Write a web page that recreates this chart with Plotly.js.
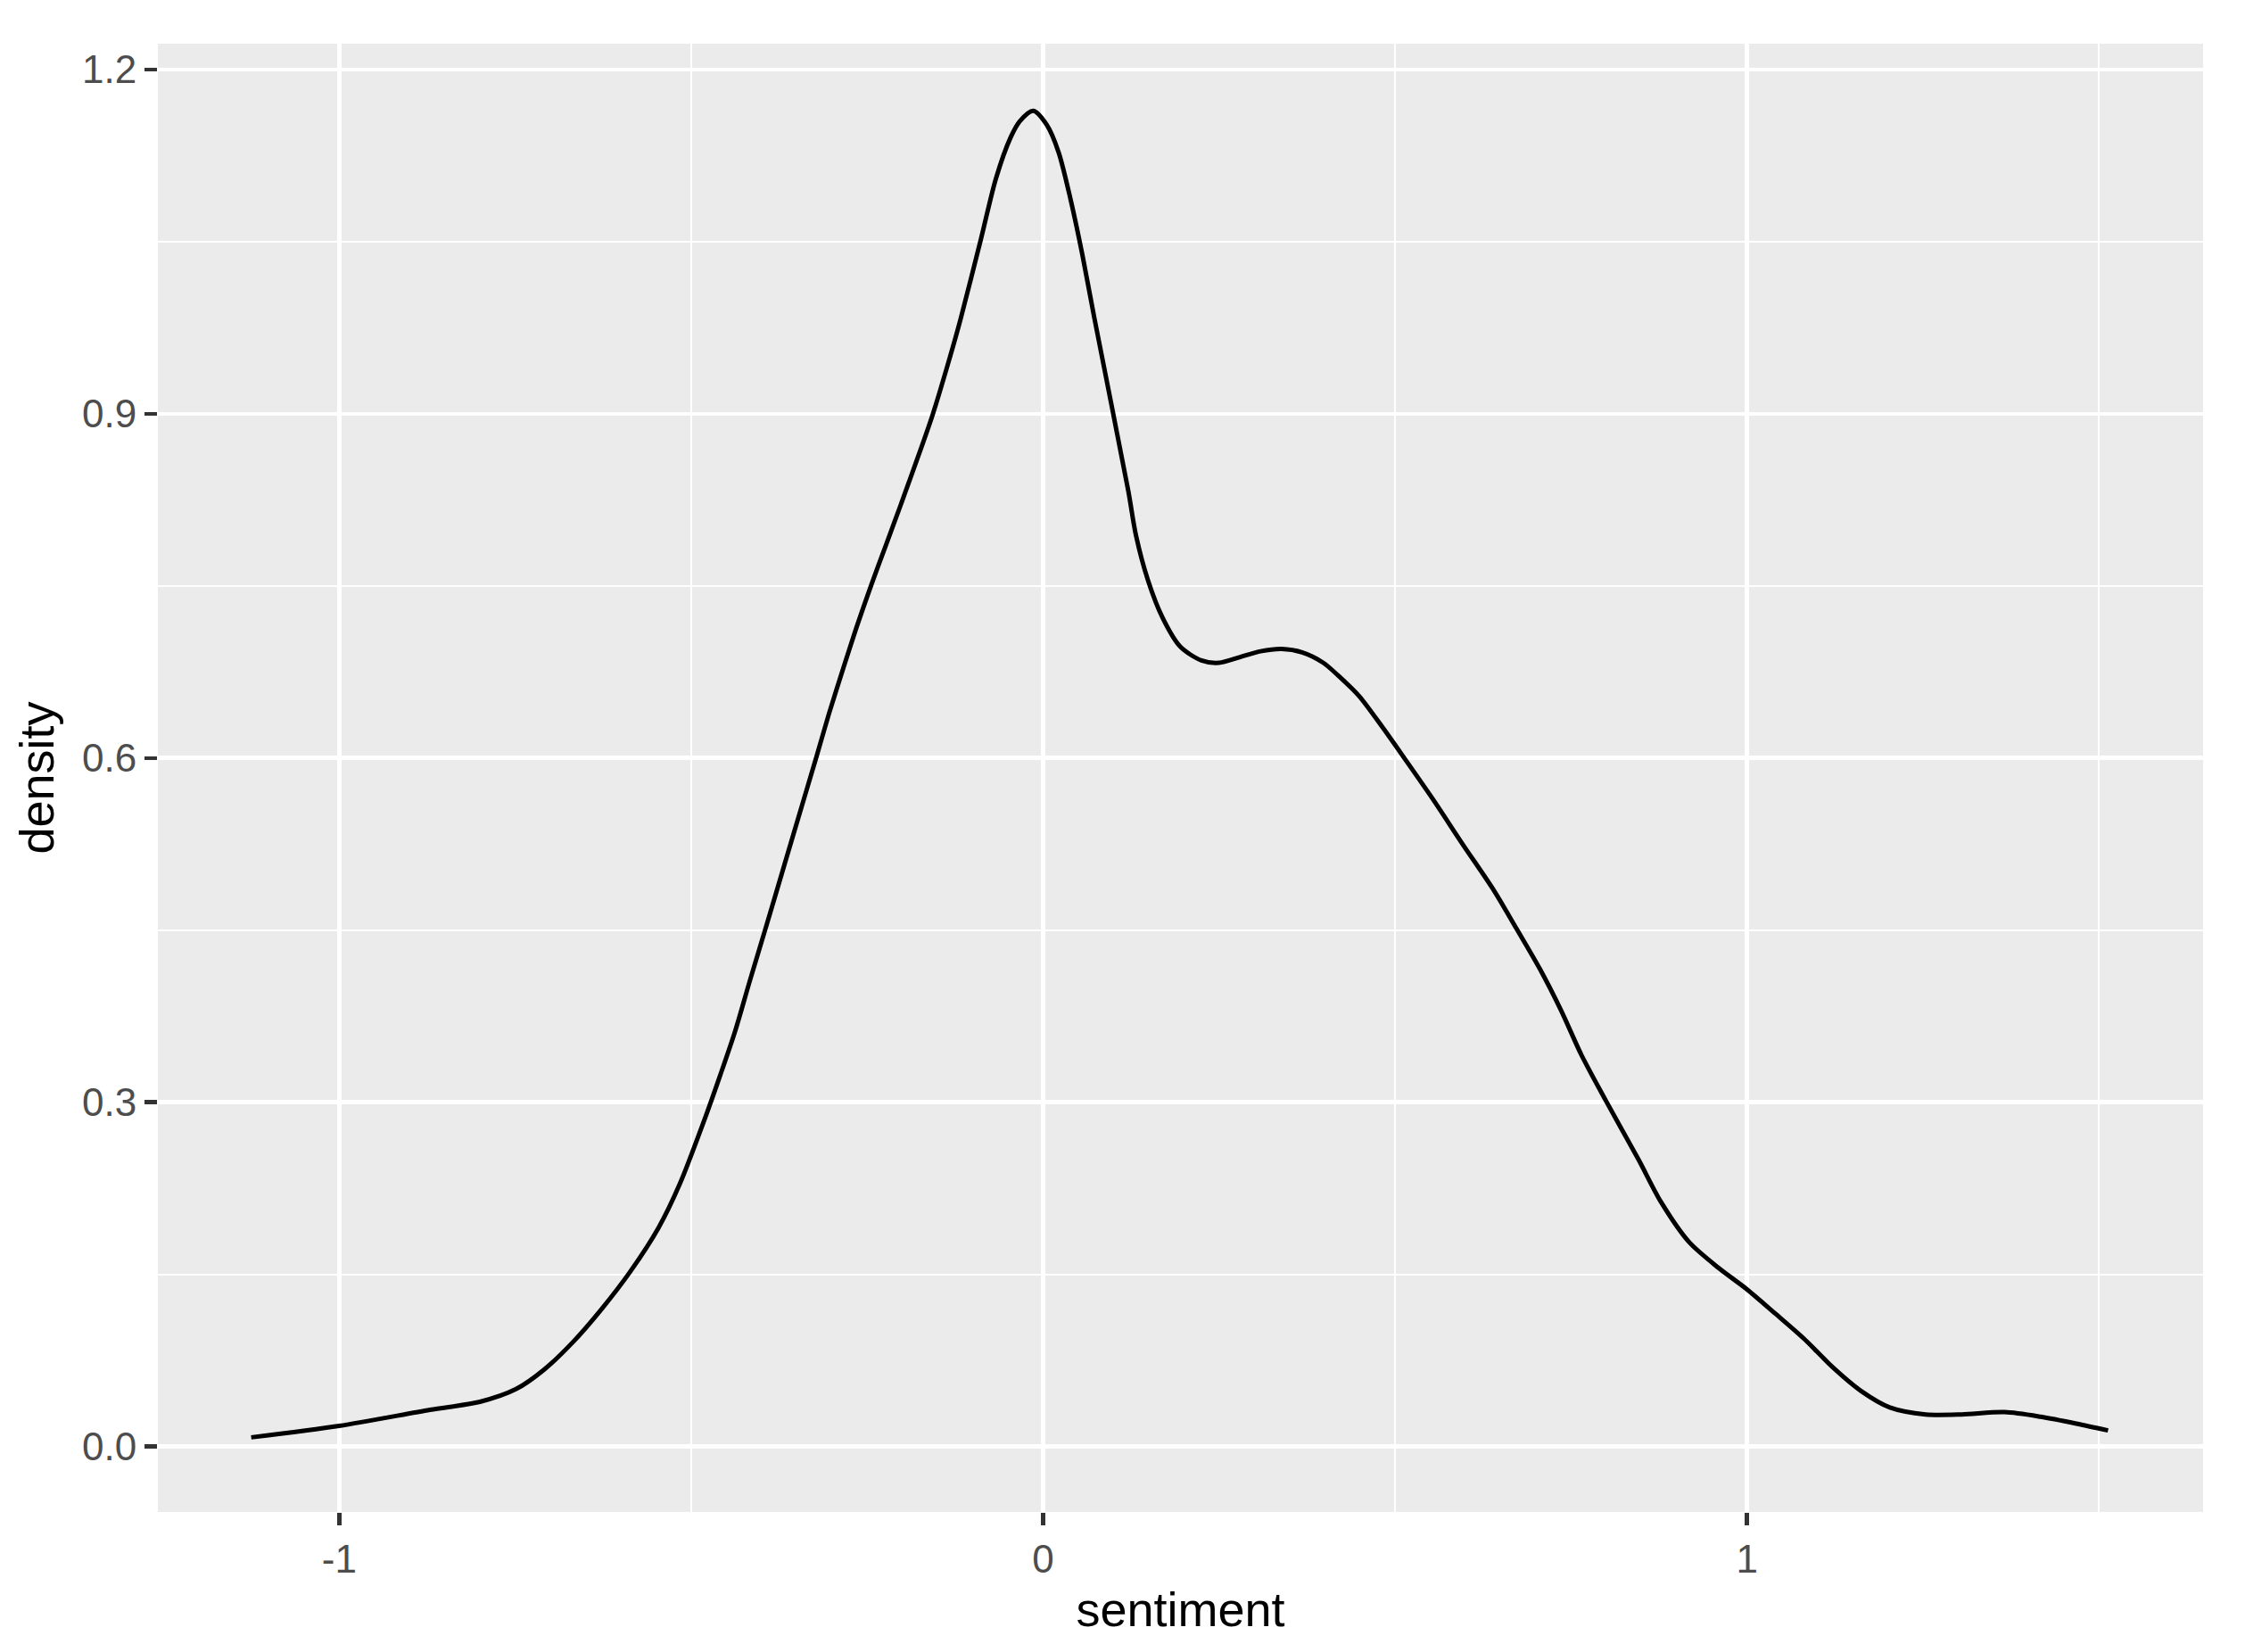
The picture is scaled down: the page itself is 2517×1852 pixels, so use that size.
<!DOCTYPE html>
<html>
<head>
<meta charset="utf-8">
<script src="https://cdn.plot.ly/plotly-3.0.1.min.js"></script>
<style>
  html, body { margin: 0; padding: 0; background: #ffffff; }
  #graph { width: 2517px; height: 1852px; }
</style>
</head>
<body>
<div id="graph"></div>
<script>
// density curve of sentiment
var sentiment = [-1.125, -1.0, -0.871, -0.80, -0.749, -0.709, -0.668, -0.627, -0.587, -0.546,
	-0.516, -0.478, -0.459, -0.438, -0.417, -0.396, -0.379, -0.354, -0.322, -0.304,
	-0.284, -0.265, -0.244, -0.223, -0.202, -0.157, -0.132, -0.117, -0.088,
	-0.067, -0.046, -0.033, -0.014, 0.005, 0.022, 0.039, 0.056, 0.073, 0.121,
	0.132, 0.149, 0.170, 0.195, 0.225, 0.250, 0.280, 0.309, 0.339, 0.368,
	0.398, 0.419, 0.449, 0.482, 0.512, 0.554, 0.596, 0.639, 0.672, 0.706,
	0.736, 0.765, 0.799, 0.846, 0.878, 0.918, 0.959, 1.0, 1.040, 1.081,
	1.122, 1.163, 1.203, 1.254, 1.305, 1.366, 1.417, 1.468, 1.513];
var density = [0.008, 0.018, 0.032, 0.039, 0.050, 0.067, 0.091, 0.120, 0.152, 0.191,
	0.229, 0.290, 0.323, 0.361, 0.405, 0.448, 0.483, 0.535, 0.601, 0.639,
	0.678, 0.714, 0.751, 0.786, 0.821, 0.899, 0.950, 0.983, 1.053,
	1.105, 1.141, 1.155, 1.164, 1.152, 1.128, 1.087, 1.038, 0.983, 0.833,
	0.794, 0.755, 0.722, 0.697, 0.685, 0.683, 0.688, 0.693, 0.695, 0.692,
	0.683, 0.672, 0.654, 0.627, 0.601, 0.564, 0.525, 0.486, 0.452, 0.416,
	0.380, 0.341, 0.302, 0.250, 0.213, 0.178, 0.156, 0.137, 0.116, 0.094,
	0.069, 0.048, 0.034, 0.028, 0.028, 0.030, 0.026, 0.020, 0.014];

var xTickVals = [-1, 0, 1];
var xTickText = ['-1', '0', '1'];
var yTickVals = [0, 0.3, 0.6, 0.9, 1.2];
var yTickText = ['0.0', '0.3', '0.6', '0.9', '1.2'];

var trace = {
	x: sentiment,
	y: density,
	mode: 'lines',
	line: { color: '#000000', width: 5, shape: 'spline', smoothing: 0.8 },
	hoverinfo: 'none'
};

var tickFont = { family: 'Liberation Sans, Arial, sans-serif', size: 44, color: '#4D4D4D' };
var titleFont = { family: 'Liberation Sans, Arial, sans-serif', size: 54, color: '#000000' };

var layout = {
	width: 2517,
	height: 1852,
	margin: { l: 177, r: 47, t: 49, b: 157, pad: 0 },
	paper_bgcolor: '#FFFFFF',
	plot_bgcolor: '#EBEBEB',
	showlegend: false,
	xaxis: {
		range: [-1.2576, 1.648],
		autorange: false,
		tickmode: 'array',
		tickvals: xTickVals,
		ticktext: xTickText,
		ticks: 'outside',
		ticklen: 14,
		tickwidth: 4.5,
		tickcolor: '#333333',
		tickfont: tickFont,
		showgrid: true,
		gridcolor: '#FFFFFF',
		gridwidth: 4.7,
		minor: { tickmode: 'array', tickvals: [-0.5, 0.5, 1.5], showgrid: true, gridcolor: '#FFFFFF', gridwidth: 2.4, ticks: '' },
		zeroline: false,
		showline: false,
		title: { text: 'sentiment', font: titleFont, standoff: 14 }
	},
	yaxis: {
		range: [-0.057, 1.2225],
		autorange: false,
		tickmode: 'array',
		tickvals: yTickVals,
		ticktext: yTickText,
		ticks: 'outside',
		ticklen: 14,
		tickwidth: 4.5,
		tickcolor: '#333333',
		tickfont: tickFont,
		showgrid: true,
		gridcolor: '#FFFFFF',
		gridwidth: 4.7,
		minor: { tickmode: 'array', tickvals: [0.15, 0.45, 0.75, 1.05], showgrid: true, gridcolor: '#FFFFFF', gridwidth: 2.4, ticks: '' },
		zeroline: false,
		showline: false,
		title: { text: 'density', font: titleFont, standoff: 14 }
	}
};

Plotly.newPlot('graph', [trace], layout, { displayModeBar: false, staticPlot: true });
</script>
</body>
</html>
